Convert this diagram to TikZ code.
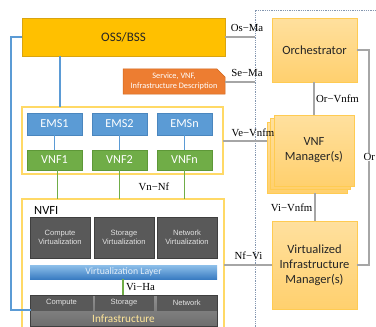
\documentclass[tikz,border=0pt]{standalone}
\usepackage{fontspec}
\setmainfont{Carlito}
\newfontfamily\ifacefont{Liberation Serif}
\newfontfamily\smallsans{Liberation Sans}
\usetikzlibrary{shapes.misc,calc}
\definecolor{ossfill}{HTML}{FFC000}
\definecolor{ossdraw}{HTML}{D9A410}
\definecolor{descfill}{HTML}{ED7D31}
\definecolor{descdraw}{HTML}{D0681F}
\definecolor{mgrtop}{HTML}{FFE09E}
\definecolor{mgrbot}{HTML}{FFD06E}
\definecolor{mgrdraw}{HTML}{FFCB52}
\definecolor{emsfill}{HTML}{5B9BD5}
\definecolor{emsdraw}{HTML}{4A86BE}
\definecolor{vnffill}{HTML}{70AD47}
\definecolor{vnfdraw}{HTML}{5E9838}
\definecolor{greybox}{HTML}{595959}
\definecolor{greydraw}{HTML}{3F3F3F}
\definecolor{greytext}{HTML}{E3E3E3}
\definecolor{contdraw}{HTML}{FFD966}
\definecolor{linkgrey}{HTML}{A6A6A6}
\definecolor{framecol}{HTML}{8497B0}
\definecolor{textdark}{HTML}{262626}
\definecolor{layertop}{HTML}{8EC0EA}
\definecolor{layerbot}{HTML}{3A7CC2}
\definecolor{layertext}{HTML}{E4EEF8}
\definecolor{infratop}{HTML}{8F8F8F}
\definecolor{infrabot}{HTML}{6E6E6E}
\definecolor{infratext}{HTML}{FFE699}
\begin{document}
\begin{tikzpicture}[x=1pt,y=-1pt,
  box/.style={anchor=north west, inner sep=0pt, outer sep=0pt, align=center},
  ossbox/.style={box, fill=ossfill, draw=ossdraw, line width=0.8pt, text=textdark, font=\fontsize{13}{15}\selectfont},
  descbox/.style={chamfered rectangle, chamfered rectangle corners=north east, chamfered rectangle sep=4pt, anchor=center, inner sep=0pt, outer sep=0pt, align=center, fill=descfill, draw=descdraw, line width=0.5pt, text=white, font=\fontsize{8.3}{10}\selectfont},
  mgrbox/.style={box, top color=mgrtop, bottom color=mgrbot, draw=mgrdraw, line width=0.6pt, text=textdark, font=\fontsize{12.5}{15}\selectfont},
  container/.style={box, fill=white, draw=contdraw, line width=1.2pt},
  emsbox/.style={box, fill=emsfill, draw=emsdraw, line width=0.6pt, text=white, minimum width=55pt, minimum height=22pt, font=\fontsize{12.2}{14}\selectfont},
  vnfbox/.style={box, fill=vnffill, draw=vnfdraw, line width=0.6pt, text=white, minimum width=55pt, minimum height=20pt, font=\fontsize{12.2}{14}\selectfont},
  greyvbox/.style={box, fill=greybox, draw=greydraw, line width=0.6pt, text=greytext, minimum width=60pt, minimum height=41pt, font=\smallsans\fontsize{7.6}{9.5}\selectfont},
  greyibox/.style={box, fill=greybox, text=greytext, minimum height=15pt, font=\smallsans\fontsize{7.6}{9}\selectfont},
  link/.style={draw=linkgrey, line width=2pt},
  bluelink/.style={draw=emsfill, line width=1.8pt},
  greenlink/.style={draw=vnffill, line width=1.8pt},
  iface/.style={font=\ifacefont\fontsize{10.8}{12}\selectfont, inner sep=0pt, text=black}
]
\useasboundingbox (0,0) rectangle (376,327);

% dotted management frame
\draw[framecol, dash pattern=on 1pt off 0.8pt, line width=0.7pt] (376,10) -- (255,10) -- (255,327);

% OSS/BSS
\node[ossbox, minimum width=203pt, minimum height=38pt] (oss) at (22,18) {OSS/BSS};

% descriptor
\node[descbox, minimum width=102pt, minimum height=25pt] (desc) at (174,81.5) {Service, VNF,\\Infrastructure Description};

% EMS / VNF container
\node[container, minimum width=201pt, minimum height=67pt] (emsc) at (22,107) {};
% NFVI container
\node[container, minimum width=202pt, minimum height=132pt] (nfvi) at (22,199) {};

% EMS and VNF
\node[emsbox] (ems1) at (27,113) {EMS1};
\node[emsbox] (ems2) at (92,113) {EMS2};
\node[emsbox] (emsn) at (157,113) {EMSn};
\node[vnfbox] (vnf1) at (27,150) {VNF1};
\node[vnfbox] (vnf2) at (92,150) {VNF2};
\node[vnfbox] (vnfn) at (157,150) {VNFn};

\draw[bluelink] (ems1) -- (vnf1);
\draw[bluelink] (ems2) -- (vnf2);
\draw[bluelink] (emsn) -- (vnfn);

% NFVI content
\node[anchor=west, inner sep=0pt, text=black, font=\fontsize{12.5}{14}\selectfont] (nfvilabel) at (34,210) {NVFI};
\node[greyvbox] (cv) at (30,217) {Compute\\Virtualization};
\node[greyvbox] (sv) at (94,217) {Storage\\Virtualization};
\node[greyvbox] (nv) at (157,217) {Network\\Virtualization};
\node[box, top color=layertop, bottom color=layerbot, minimum width=187pt, minimum height=14pt, text=layertext, font=\fontsize{9.8}{11}\selectfont] (vlayer) at (30,265) {Virtualization Layer};

\node[box, top color=infratop, bottom color=infrabot, draw=greydraw, line width=0.8pt, minimum width=187pt, minimum height=31pt] (infra) at (30,295) {};
\node[greyibox, minimum width=62pt] (icompute) at (30.5,295.5) {Compute};
\node[greyibox, minimum width=59pt] (istorage) at (94.5,295.5) {Storage};
\node[greyibox, minimum width=59.5pt] (inetwork) at (157,295.5) {Network};
\node[inner sep=0pt, text=infratext, font=\fontsize{11.2}{12}\selectfont] (infralabel) at (123.5,318.5) {Infrastructure};

% Vi-Ha
\draw[greenlink] (vlayer.south -| 123,0) -- (infra.north -| 123,0);
\node[iface, anchor=west] (viha) at (126,287) {Vi−Ha};

% VNF to NFVI
\draw[greenlink] ($(vnf1.south)+(3,0)$) -- ($(vnf1.south |- nfvi.north)+(3,0)$);
\draw[greenlink] (vnf2.south) -- (vnf2.south |- nfvi.north);
\draw[greenlink] (vnfn.south) -- (vnfn.south |- nfvi.north);
\node[iface] (vnnf) at (154,187) {Vn−Nf};

% OSS blue links
\draw[bluelink] ($(oss.south west)+(38,0)$) -- ($(emsc.north west)+(38,0)$);
\coordinate (bl) at (11,310);
\draw[bluelink] (oss.west) -| (bl) -- (bl -| icompute.west);

% Management side
\node[mgrbox, minimum width=85pt, minimum height=64pt] (orch) at (272,18) {Orchestrator};
\node[mgrbox, minimum width=80pt, minimum height=71pt] (vnfmback) at (267,122) {};
\node[mgrbox, minimum width=80pt, minimum height=71pt] (vnfmmid) at (270.5,118.5) {};
\node[mgrbox, minimum width=80pt, minimum height=71pt] (vnfm) at (274,115) {VNF\\Manager(s)};
\node[mgrbox, minimum width=85pt, minimum height=88pt] (vim) at (272,221) {Virtualized\\Infrastructure\\Manager(s)};

% reference points
\draw[link] (oss.east) -- (oss.east -| 255,0);
\node[iface] (osma) at (247,28) {Os−Ma};
\draw[link] (desc.east) -- (desc.east -| 255,0);
\node[iface] (sema) at (247,73) {Se−Ma};
\draw[link] (emsc.east |- 0,141) -- (vnfmback.west |- 0,141);
\node[iface] (vevnfm) at (253,132.5) {Ve−Vnfm};
\draw[link] (vnfm.north |- orch.south) -- (vnfm.north);
\node[iface, anchor=west] (orvnfm) at (316,99) {Or−Vnfm};
\draw[link] (vim.north |- vnfmback.south) -- (vim.north);
\node[iface, anchor=east] (vivnfm) at (312.5,207.5) {Vi−Vnfm};
\draw[link] (vim.west -| nfvi.east) -- (vim.west);
\node[iface] (nfvi2) at (248.5,256) {Nf−Vi};
\draw[link] (orch.east) -- ++(12,0) |- (vim.east);
\node[iface, anchor=west, fill=white, inner sep=0.5pt] (orvi) at (363,157) {Or};
\end{tikzpicture}
\end{document}
